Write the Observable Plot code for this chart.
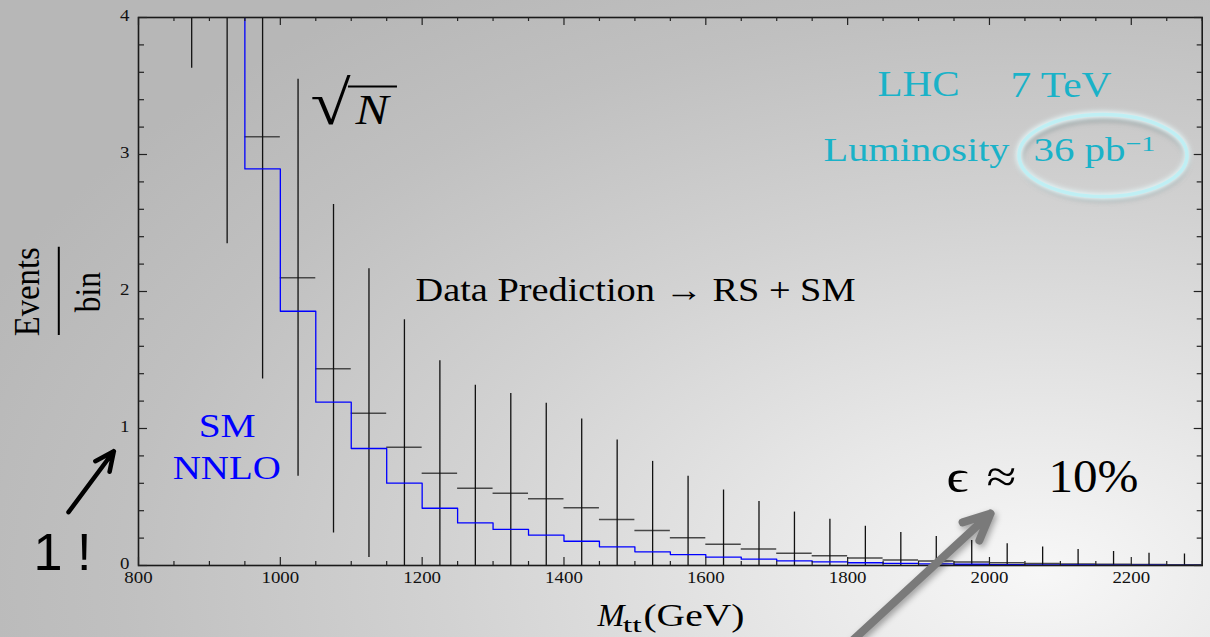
<!DOCTYPE html>
<html><head><meta charset="utf-8">
<script src="https://cdn.jsdelivr.net/npm/d3@7"></script>
<script src="https://cdn.jsdelivr.net/npm/@observablehq/plot@0.6"></script>
<style>
html,body{margin:0;padding:0;width:1210px;height:637px;overflow:hidden;}
body{background: radial-gradient(ellipse 95% 110% at 86% 90%, #f7f7f7 0%, #e8e8e8 22%, #d2d2d2 52%, #c0c0c0 80%, #b7b7b7 100%);}
#chart{position:absolute;left:0;top:0;}
</style></head><body><div id="chart"></div>
<script>
// Data prediction (events per 50 GeV bin), bin centres
const binCenters = [875, 925, 975, 1025, 1075, 1125, 1175, 1225, 1275, 1325, 1375, 1425, 1475, 1525, 1575, 1625, 1675, 1725, 1775, 1825, 1875, 1925, 1975, 2025, 2075, 2125, 2175, 2225, 2275];
const dataEvents = [6.1, 4.46, 3.13, 2.10, 1.436, 1.112, 0.864, 0.674, 0.564, 0.528, 0.487, 0.421, 0.336, 0.255, 0.202, 0.156, 0.12, 0.09, 0.071, 0.054, 0.04, 0.032, 0.025, 0.0196, 0.0144, 0.011, 0.0087, 0.0068, 0.006];
// SM NNLO histogram, bin lower edges
const smBinLow = [900, 950, 1000, 1050, 1100, 1150, 1200, 1250, 1300, 1350, 1400, 1450, 1500, 1550, 1600, 1650, 1700, 1750, 1800, 1850, 1900, 1950, 2000, 2050, 2100, 2150, 2200, 2250];
const smEvents = [4.6, 2.895, 1.856, 1.192, 0.854, 0.601, 0.418, 0.311, 0.263, 0.221, 0.177, 0.136, 0.10, 0.080, 0.061, 0.046, 0.034, 0.027, 0.020, 0.015, 0.012, 0.009, 0.007, 0.005, 0.004, 0.003, 0.002, 0.0015];
const binWidth = 50;
const xMajorTicks = [800, 1000, 1200, 1400, 1600, 1800, 2000, 2200];
const xMinorTicks = d3.range(800, 2301, 50).filter(v => (v - 800) % 200 !== 0);
const yMajorTicks = [0, 1, 2, 3, 4];
const yMinorTicks = d3.range(0, 4.01, 0.2).filter(v => Math.abs(v - Math.round(v)) > 1e-6);

const data = binCenters.map((c, i) => {
  const v = dataEvents[i];
  return {c, x0: c - binWidth / 2, x1: c + binWidth / 2, v, lo: v - Math.sqrt(v), hi: v + Math.sqrt(v)};
});
const sm = smBinLow.map((x, i) => ({x, v: smEvents[i]}));
sm.push({x: 2300, v: smEvents[smEvents.length - 1]});

const FW = 1210 - 138 - 8.3, FH = 637 - 17 - 72;
const SERIF = "'Liberation Serif', 'Times New Roman', serif";
const CYAN = "#1ab2c8";

function label(t, x, y, o = {}) {
  return Plot.text([t], {x: () => x, y: () => y, text: d => d, textAnchor: "start", lineAnchor: "bottom",
    fontFamily: SERIF, fill: "#000", ...o});
}

const plot = Plot.plot({
  width: 1210, height: 637,
  marginLeft: 138, marginRight: 8.3, marginTop: 17, marginBottom: 72,
  x: {domain: [800, 2300]},
  y: {domain: [0, 4]},
  style: {background: "transparent", fontFamily: SERIF, overflow: "visible"},
  marks: [
    Plot.ruleY(data, {y: "v", x1: "x0", x2: "x1", stroke: "#484848", strokeWidth: 1.5, clip: true}),
    Plot.ruleX(data, {x: "c", y1: "lo", y2: "hi", stroke: "#111", strokeWidth: 1.3, clip: true}),
    Plot.line(sm, {x: "x", y: "v", curve: "step-after", stroke: "#0000ff", strokeWidth: 1.3, clip: true}),
    Plot.frame({stroke: "#1a1a1a", strokeWidth: 1.6}),
    // inward ticks
    Plot.tickX(xMajorTicks, {insetTop: FH - 8, stroke: "#222", strokeWidth: 1.2}),
    Plot.tickX(xMinorTicks, {insetTop: FH - 4, stroke: "#222", strokeWidth: 1.2}),
    Plot.tickX(xMajorTicks, {insetBottom: FH - 8, stroke: "#222", strokeWidth: 1.2}),
    Plot.tickX(xMinorTicks, {insetBottom: FH - 4, stroke: "#222", strokeWidth: 1.2}),
    Plot.tickY(yMajorTicks, {insetRight: FW - 9, stroke: "#222", strokeWidth: 1.2}),
    Plot.tickY(yMinorTicks, {insetRight: FW - 6, stroke: "#222", strokeWidth: 1.2}),
    Plot.tickY(yMajorTicks, {insetLeft: FW - 8, stroke: "#222", strokeWidth: 1.2}),
    Plot.tickY(yMinorTicks, {insetLeft: FW - 5, stroke: "#222", strokeWidth: 1.2}),
    Plot.axisX({ticks: xMajorTicks, tickSize: 0, tickPadding: 6, tickFormat: d => String(d), fontSize: 16, label: null, fill: "#111"}),
    Plot.axisY({ticks: yMajorTicks, tickSize: 0, tickPadding: 9, dy: -2, tickFormat: d => String(d), fontSize: 16, label: null, fill: "#111"}),
    // axis titles
    label("M", 1447.3, -0.445, {fontSize: 32, fontStyle: "italic"}),
    label("tt", 1483, -0.485, {fontSize: 20}),
    label("(GeV)", 1512, -0.445, {fontSize: 32}),
    label("Events", 659.4, 1.998, {fontSize: 36, rotate: -90, textAnchor: "middle"}),
    label("bin", 745.3, 1.995, {fontSize: 36, rotate: -90, textAnchor: "middle"}),
    Plot.ruleX([687.6], {y1: 1.679, y2: 2.323, stroke: "#000", strokeWidth: 2}),
    // annotations
    label("Data Prediction \u2192 RS + SM", 1190.6, 1.934, {fontSize: 33}),
    label("\u221A", 1042.5, 3.225, {fontSize: 62}),
    label("N", 1106, 3.226, {fontSize: 42, fontStyle: "italic"}),
    Plot.ruleY([3.496], {x1: 1096.1, x2: 1165.2, stroke: "#000", strokeWidth: 2}),
    label("SM", 925, 0.9365, {fontSize: 33, fill: "#0000ff", textAnchor: "middle"}),
    label("NNLO", 924.4, 0.633, {fontSize: 33, fill: "#0000ff", textAnchor: "middle"}),
    label("LHC", 1842.1, 3.426, {fontSize: 36, fill: CYAN}),
    label("7 TeV", 2029.7, 3.423, {fontSize: 36, fill: CYAN}),
    label("Luminosity", 1766, 2.956, {fontSize: 33, fill: CYAN}),
    label("36 pb", 2062.1, 2.949, {fontSize: 33, fill: CYAN}),
    label("\u22121", 2191.8, 3.029, {fontSize: 22, fill: CYAN}),
    label("\u03F5", 1939.4, 0.54, {fontSize: 46}),
    label("\u2248", 1995.8, 0.54, {fontSize: 46}),
    label("10%", 2083.3, 0.54, {fontSize: 46}),
    label("1 !", 652, -0.031, {fontSize: 52, fontFamily: "'Liberation Sans', Arial, sans-serif"}),
    Plot.arrow([0], {x1: 701.3, y1: 0.389, x2: 765.2, y2: 0.834, stroke: "#000", strokeWidth: 4.5, headLength: 7, headAngle: 50}),
    Plot.arrow([0], {x1: 1806.9, y1: -0.547, x2: 2001.5, y2: 0.38, stroke: "#7a7a7a", strokeWidth: 8, headLength: 5.5, headAngle: 50})
  ]
});

document.getElementById("chart").appendChild(plot);

// horizontal stretch of the slide's text
const widths = {
  "Data Prediction \u2192 RS + SM": 440, "SM": 57, "NNLO": 108, "LHC": 82, "7 TeV": 101,
  "Luminosity": 186, "36 pb": 92, "\u22121": 30, "10%": 90, "Events": 89, "bin": 40, "(GeV)": 101,
  "M": 27, "tt": 19, "1 !": 58
};
d3.select(plot).selectAll("text").each(function() {
  const t = this.textContent;
  const w = widths[t] !== undefined ? widths[t] : this.getComputedTextLength() * 1.18;
  this.setAttribute("textLength", w);
  this.setAttribute("lengthAdjust", "spacingAndGlyphs");
});

// ellipse highlight around the luminosity
const svg = d3.select(plot);
const defs = svg.append("defs");
defs.append("filter").attr("id", "blur3").append("feGaussianBlur").attr("stdDeviation", 2.5);
const ex = plot.scale("x").apply(2160.8), ey = plot.scale("y").apply(2.989);
const eg = svg.append("g");
eg.append("ellipse").attr("cx", ex + 1).attr("cy", ey + 4).attr("rx", 83).attr("ry", 40)
  .attr("fill", "none").attr("stroke", "#6f7f82").attr("stroke-opacity", 0.55).attr("stroke-width", 4).attr("filter", "url(#blur3)");
eg.append("ellipse").attr("cx", ex).attr("cy", ey).attr("rx", 84).attr("ry", 41)
  .attr("fill", "none").attr("stroke", "#e8fbfd").attr("stroke-width", 6).attr("filter", "url(#blur3)");
eg.append("ellipse").attr("cx", ex).attr("cy", ey).attr("rx", 84).attr("ry", 41)
  .attr("fill", "none").attr("stroke", "#bfeff4").attr("stroke-width", 3.5);
svg.selectAll('g[aria-label="arrow"]').filter((d, i) => i === 1)
  .style("filter", "drop-shadow(2px 3px 3px rgba(0,0,0,0.35))");
</script>
</body></html>
